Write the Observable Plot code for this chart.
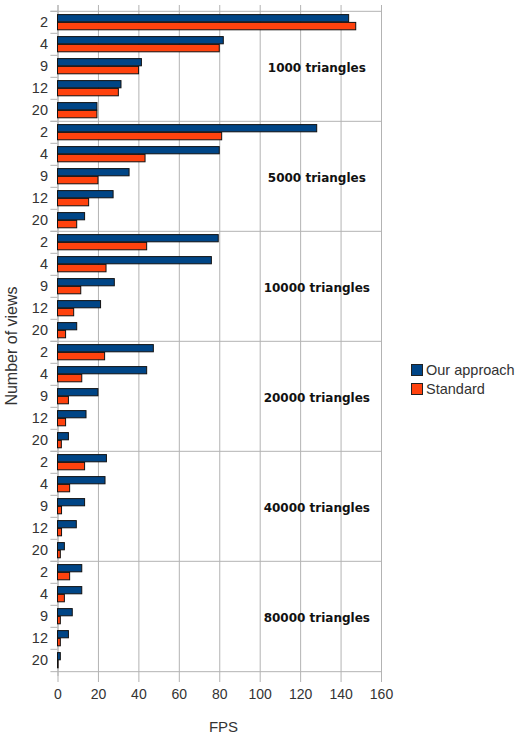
<!DOCTYPE html>
<html>
<head>
<meta charset="utf-8">
<script src="https://cdn.jsdelivr.net/npm/d3@7"></script>
<script src="https://cdn.jsdelivr.net/npm/@observablehq/plot@0.6"></script>
<style>
  html, body { margin: 0; padding: 0; background: #fff; }
  #wrap { position: relative; width: 516px; height: 739px; font-family: "Liberation Sans", Arial, sans-serif; color: #333; overflow: hidden; }
  #chart { position: absolute; left: 0; top: 0; }
  .ytitle { position: absolute; left: 12px; top: 346px; transform: translate(-50%, -50%) rotate(-90deg); font-size: 16px; white-space: nowrap; }
  .xtitle { position: absolute; left: 223.5px; top: 726px; transform: translate(-50%, -50%); font-size: 15px; }
  .legend { position: absolute; left: 411px; top: 361px; font-size: 14.5px; line-height: 18.5px; }
  .legend div { display: flex; align-items: center; white-space: nowrap; }
  .legend span.sw { display: inline-block; width: 10px; height: 10px; border: 1px solid #222; margin-right: 3px; }
</style>
</head>
<body>
<div id="wrap">
  <div id="chart"></div>
  <div class="ytitle">Number of views</div>
  <div class="xtitle">FPS</div>
  <div class="legend" id="legend"></div>
</div>
<script>
const groups = ["1000 triangles", "5000 triangles", "10000 triangles", "20000 triangles", "40000 triangles", "80000 triangles"];
const views = [2, 4, 9, 12, 20];
const seriesNames = ["Our approach", "Standard"];
const seriesColors = ["#004586", "#ff420e"];
const ourApproach = [
  144, 82, 41.5, 31.4, 19.5,
  128.2, 80, 35.4, 27.5, 13.4,
  79.5, 76.1, 28.1, 21.3, 9.5,
  47.4, 44.1, 20, 14.1, 5.4,
  24.2, 23.5, 13.4, 9.3, 3.4,
  12, 12, 7.3, 5.4, 1.4
];
const standard = [
  147.5, 80, 40.1, 30.1, 19.5,
  81.2, 43.3, 20, 15.4, 9.5,
  44.1, 24, 11.5, 8, 4,
  23.3, 12, 5.4, 4, 1.9,
  13.4, 6, 2, 2, 1.4,
  6, 3.4, 1.4, 1.4, 0.3
];
const xTicks = [0, 20, 40, 60, 80, 100, 120, 140, 160];

const rows = [];
groups.forEach((g, gi) => views.forEach((v, vi) => {
  const i = gi * views.length + vi;
  rows.push({key: g + "|" + v, group: g, view: v, ours: ourApproach[i], std: standard[i], first: vi === 0});
}));
const keys = rows.map(d => d.key);

const H = 739, mTop = 5, mBottom = 63;
const band = (H - mTop - mBottom) / keys.length;
const grid = "#b3b3b3";

const plot = Plot.plot({
  width: 516,
  height: H,
  marginLeft: 57.5,
  marginRight: 135,
  marginTop: mTop,
  marginBottom: mBottom,
  style: {fontFamily: "'Liberation Sans', Arial, sans-serif", fontSize: "14.5px", color: "#333", background: "#fff"},
  x: {domain: [0, 160]},
  y: {domain: keys, padding: 0},
  marks: [
    Plot.gridX(xTicks, {stroke: grid, strokeOpacity: 1}),
    Plot.axisX(xTicks, {tickSize: 6, tickPadding: 7, stroke: grid, fill: "#333", label: null, fontSize: 14}),
    Plot.axisY({tickSize: 0, tickPadding: 10, tickFormat: k => k.split("|")[1], label: null, fill: "#333"}),
    // small ticks at category boundaries
    Plot.ruleY(rows, {y: "key", x1: -3.5, x2: 0, dy: -band / 2, stroke: grid, clip: false}),
    // group separators
    Plot.ruleY(rows.filter(d => d.first), {y: "key", x1: -3.5, x2: 160, dy: -band / 2, stroke: grid}),
    Plot.ruleY([keys[keys.length - 1]], {y: d => d, x1: -3.5, x2: 160, dy: band / 2, stroke: grid}),
    Plot.ruleX([0], {stroke: grid}),
    Plot.barX(rows, {y: "key", x: "ours", fill: seriesColors[0], stroke: "#111", strokeWidth: 1, insetTop: 3.6, insetBottom: 11.2}),
    Plot.barX(rows, {y: "key", x: "std", fill: seriesColors[1], stroke: "#111", strokeWidth: 1, insetTop: 11.4, insetBottom: 3.2}),
    Plot.text(groups, {x: () => 128, y: g => g + "|9", dy: 2, text: d => d, fontFamily: "'DejaVu Sans', sans-serif", fontWeight: "bold", fontSize: 12, fill: "#111", textAnchor: "middle"})
  ]
});
document.getElementById("chart").appendChild(plot);

const legend = document.getElementById("legend");
seriesNames.forEach((n, i) => {
  const row = document.createElement("div");
  const sw = document.createElement("span");
  sw.className = "sw";
  sw.style.background = seriesColors[i];
  row.appendChild(sw);
  row.appendChild(document.createTextNode(n));
  legend.appendChild(row);
});
</script>
</body>
</html>
